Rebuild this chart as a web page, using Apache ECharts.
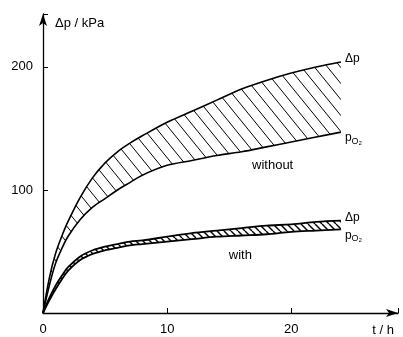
<!DOCTYPE html>
<html>
<head>
<meta charset="utf-8">
<script src="https://cdn.jsdelivr.net/npm/echarts@6/dist/echarts.min.js"></script>
<style>
  html, body { margin: 0; padding: 0; background: #fff; }
  #chart { width: 403px; height: 337px; }
</style>
</head>
<body>
<div id="chart"></div>
<script>
// time in hours
const hours = [0, 0.5, 1, 1.5, 2, 3, 4, 5, 6, 7, 8, 10, 12, 14, 16, 18, 20, 22, 24];
// without: upper curve (Δp) and lower curve (pO2), kPa
const withoutDp = [0, 28, 48, 62, 74, 94, 110, 122, 131, 138, 144, 155, 164, 173, 182, 189, 195, 200, 204];
const withoutPo2 = [0, 22, 40, 52, 62, 76, 86, 93, 100, 106, 112, 120, 124, 128, 131, 135, 139, 143, 147];
// with
const withDp = [0, 12, 22, 30, 37, 46, 51, 54, 56, 58, 59, 62, 65, 67, 69, 71, 72, 74, 75];
const withPo2 = [0, 10, 19, 27, 34, 43, 48, 51, 53, 55, 56, 58, 60, 62, 63, 64, 66, 67, 68];
const xTicks = [0, 10, 20];
const yTicks = [100, 200];

const font = "Liberation Sans, Arial, sans-serif";

// diagonal "\" hatch tile
function hatch(w, h, lw) {
  const c = document.createElement("canvas");
  c.width = w;
  c.height = h;
  const ctx = c.getContext("2d");
  ctx.strokeStyle = "#000";
  ctx.lineWidth = lw;
  for (let k = -1; k <= 1; k++) {
    ctx.beginPath();
    ctx.moveTo(k * w, 0);
    ctx.lineTo(k * w + w, h);
    ctx.stroke();
  }
  return c;
}

// value first, time second, so the stack goes on the value (y) dimension
const rows = ys => ys.map((y, i) => [y, hours[i]]);
const diff = (a, b) => a.map((v, i) => v - b[i]);

const endLbl = (text, dy) => ({
  show: true,
  formatter: text,
  distance: 4,
  offset: [0, dy],
  color: "#000",
  fontFamily: font,
  fontSize: 12,
  rich: {
    sub: { fontSize: 9, verticalAlign: "bottom", padding: [6, 0, 0, 0], fontFamily: font }
  }
});

function band(name, upper, lower, tile, lw) {
  const common = {
    type: "line",
    stack: name,
    encode: { x: 1, y: 0 },
    smooth: 0.35,
    symbol: "none",
    lineStyle: { color: "#000", width: lw }
  };
  return [
    Object.assign({}, common, {
      data: rows(lower),
      endLabel: endLbl("p{sub|O₂}", 6)
    }),
    Object.assign({}, common, {
      data: rows(diff(upper, lower)),
      areaStyle: { color: { image: tile, repeat: "repeat" }, opacity: 1 },
      endLabel: endLbl("Δp", -3)
    })
  ];
}

const chart = echarts.init(document.getElementById("chart"));

const option = {
  animation: false,
  backgroundColor: "#fff",
  grid: { left: 43, right: 5, top: 14, bottom: 24 },
  xAxis: {
    type: "value",
    z: 10,
    min: 0,
    max: 28.6,
    interval: 10,
    name: "t / h",
    nameLocation: "end",
    nameGap: 0,
    nameTextStyle: {
      color: "#000", fontFamily: font, fontSize: 13,
      align: "right", verticalAlign: "top", padding: [11, 4, 0, 0]
    },
    axisLine: { lineStyle: { color: "#000", width: 1.3 }, symbol: ["none", "arrow"], symbolSize: [6, 12] },
    axisTick: { inside: true, length: 5, lineStyle: { color: "#000" } },
    splitLine: { show: false },
    showMaxLabel: false,
    axisLabel: {
      color: "#000", fontFamily: font, fontSize: 13, margin: 10,
      formatter: v => (xTicks.includes(v) ? String(v) : "")
    }
  },
  yAxis: {
    type: "value",
    z: 10,
    min: 0,
    max: 243,
    interval: 100,
    name: "Δp / kPa",
    nameLocation: "end",
    nameGap: -9,
    nameTextStyle: {
      color: "#000", fontFamily: font, fontSize: 13,
      align: "left", verticalAlign: "middle", padding: [0, 0, 0, 12]
    },
    axisLine: { show: true, lineStyle: { color: "#000", width: 1.3 }, symbol: ["none", "arrow"], symbolSize: [6, 12] },
    axisTick: { show: true, inside: true, length: 5, lineStyle: { color: "#000" } },
    splitLine: { show: false },
    showMinLabel: false,
    showMaxLabel: false,
    axisLabel: {
      color: "#000", fontFamily: font, fontSize: 13, margin: 10,
      formatter: v => (yTicks.includes(v) ? String(v) : "")
    }
  },
  series: [
    ...band("without", withoutDp, withoutPo2, hatch(13, 16, 1), 1.6),
    ...band("with", withDp, withPo2, hatch(7, 7, 1.4), 1.8),
    {
      type: "scatter",
      symbolSize: 0,
      data: [],
      markPoint: {
        symbol: "circle",
        symbolSize: 0,
        label: { show: true, color: "#000", fontFamily: font, fontSize: 13, position: "inside" },
        data: [
          { coord: [18.5, 120], value: "without", label: { formatter: "without" } },
          { coord: [15.9, 47], value: "with", label: { formatter: "with" } }
        ]
      }
    }
  ]
};

chart.setOption(option);
</script>
</body>
</html>
